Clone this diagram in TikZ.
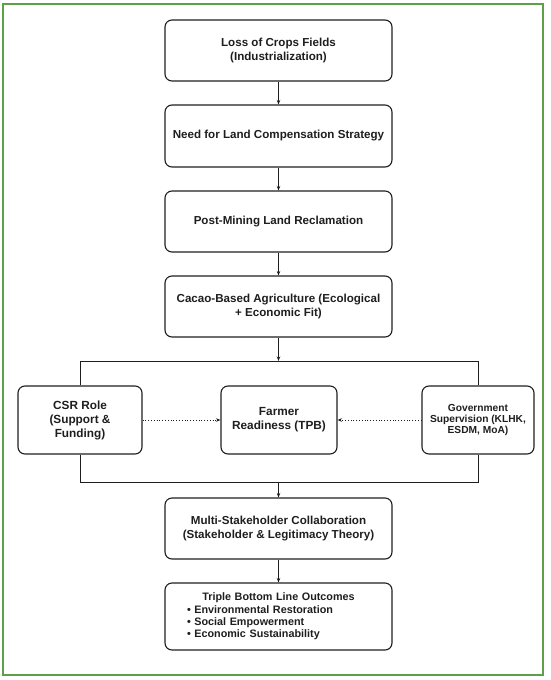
\documentclass[tikz,border=0pt]{standalone}
\usepackage{fontspec}
\setmainfont{Liberation Sans}
\usetikzlibrary{arrows.meta}
\definecolor{framegreen}{RGB}{92,160,72}
\definecolor{ink}{RGB}{30,30,30}
\tikzset{
  stepbox/.style={draw=ink, line width=1.1pt, rounded corners=7pt, align=center,
     inner sep=2pt, text=ink, font=\bfseries\fontsize{11.6}{13.5}\selectfont},
  conn/.style={draw=ink, line width=0.8pt},
  arr/.style={conn, -{Stealth[length=4.5pt,width=3.5pt]}},
  dotarr/.style={conn, dotted, -{Stealth[length=4.5pt,width=3.5pt]}},
}
\begin{document}
\begin{tikzpicture}[x=1pt,y=-1pt]
\useasboundingbox (0,0) rectangle (550,680);
\draw[framegreen, line width=1.4pt] (3,4) rectangle (543,675);

\node[stepbox, minimum width=227pt, minimum height=61pt] (b1) at (278.5,50.5) {Loss of Crops Fields\\(Industrialization)};
\node[stepbox, minimum width=227pt, minimum height=62pt] (b2) at (278.5,136) {Need for Land Compensation Strategy};
\node[stepbox, minimum width=227pt, minimum height=61pt] (b3) at (278.5,221.5) {Post-Mining Land Reclamation};
\node[stepbox, minimum width=227pt, minimum height=61pt] (b4) at (278.5,306.5) {Cacao-Based Agriculture (Ecological\\+ Economic Fit)};

\node[stepbox, minimum width=124pt, minimum height=68pt, font=\bfseries\fontsize{11.8}{14}\selectfont] (csr) at (80,420) {CSR Role\\(Support \&\\Funding)};
\node[stepbox, minimum width=116pt, minimum height=68pt, font=\bfseries\fontsize{11.8}{14}\selectfont] (farmer) at (279,420) {Farmer\\Readiness (TPB)};
\node[stepbox, minimum width=112pt, minimum height=68pt, font=\bfseries\fontsize{10.2}{10.8}\selectfont] (gov) at (478,420) {Government\\Supervision (KLHK,\\ESDM, MoA)};

\node[stepbox, minimum width=227pt, minimum height=61pt] (multi) at (278.5,528.5) {Multi-Stakeholder Collaboration\\(Stakeholder \& Legitimacy Theory)};
\node[stepbox, minimum width=227pt, minimum height=67pt, text width=227pt, inner sep=0pt, align=left, font=\bfseries\fontsize{10.8}{12.2}\selectfont] (tbl) at (278.5,616.5)
  {\makebox[227pt][c]{Triple Bottom Line Outcomes}\\
   \hspace*{22pt}• Environmental Restoration\\
   \hspace*{22pt}• Social Empowerment\\
   \hspace*{22pt}• Economic Sustainability};

\coordinate (tl) at (80,361);
\coordinate (tc) at (278.5,361);
\coordinate (tr) at (478,361);
\coordinate (bl) at (80,482);
\coordinate (bc) at (278.5,482);
\coordinate (br) at (478,482);

\draw[arr] (b1) -- (b2);
\draw[arr] (b2) -- (b3);
\draw[arr] (b3) -- (b4);
\draw[arr] (b4) -- (tc);
\draw[conn] (csr.north) -- (tl) -- (tr) -- (gov.north);
\draw[conn] (csr.south) -- (bl) -- (br) -- (gov.south);
\draw[dotarr] (csr.east) -- (farmer.west);
\draw[dotarr] (gov.west) -- (farmer.east);
\draw[arr] (bc) -- (multi);
\draw[arr] (multi) -- (tbl);
\end{tikzpicture}
\end{document}
